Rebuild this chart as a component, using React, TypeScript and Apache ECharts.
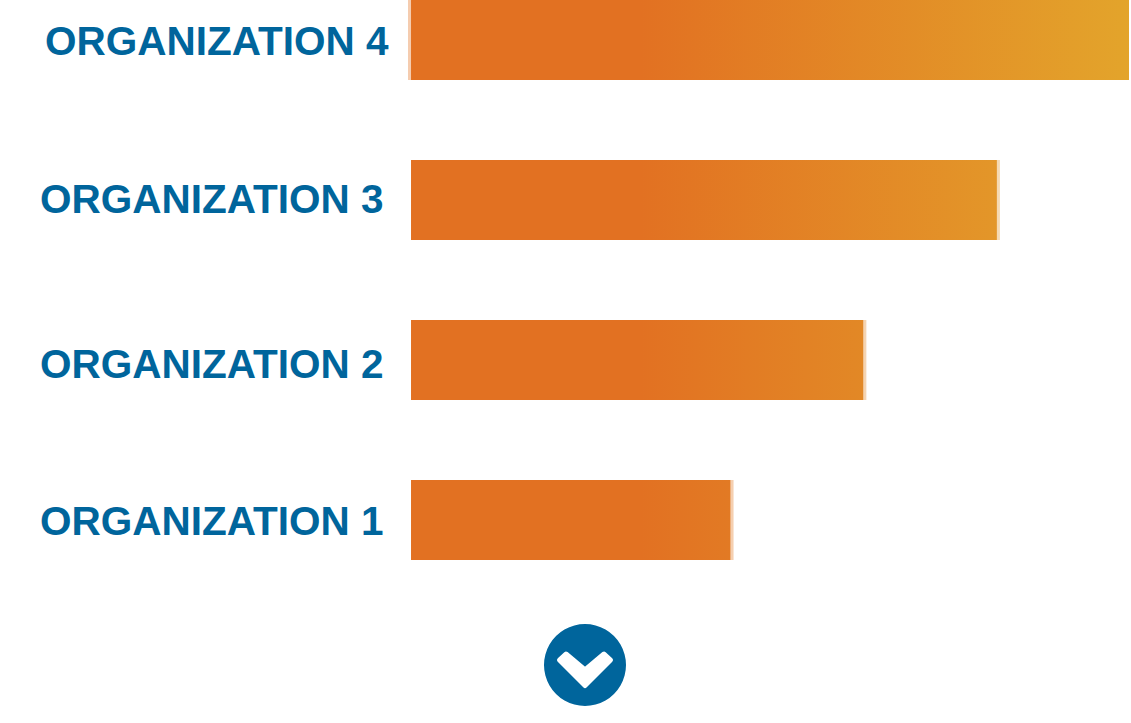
import React, { useEffect, useRef } from "react";
import * as echarts from "echarts";

const categories = ["ORGANIZATION 1", "ORGANIZATION 2", "ORGANIZATION 3", "ORGANIZATION 4"];
const values = [44.5, 63, 81.6, 100];
const edgeValues = [0.42, 0.42, 0.42, -0.42];
const AXIS_MIN = -0.42;
const AXIS_MAX = 100;
const BLUE = "#00659c";

const START = [226, 113, 34];
const END = [227, 164, 43];
const FLAT = 0.32;

function colorAt(frac: number, opacity = 1) {
  const t = Math.max(0, (frac - FLAT) / (1 - FLAT));
  const c = START.map((s, i) => Math.round(s + (END[i] - s) * t));
  return `rgba(${c[0]},${c[1]},${c[2]},${opacity})`;
}

function barGradient(v: number) {
  const frac = v / AXIS_MAX;
  const stops: { offset: number; color: string }[] = [{ offset: 0, color: colorAt(0) }];
  if (frac > FLAT) stops.push({ offset: FLAT / frac, color: colorAt(FLAT) });
  stops.push({ offset: 1, color: colorAt(frac) });
  return new echarts.graphic.LinearGradient(0, 0, 1, 0, stops);
}

const labelStyle = {
  color: BLUE,
  fontFamily: "Liberation Sans",
  fontWeight: "bold",
  fontSize: 40.5,
};

export default function App() {
  const ref = useRef<HTMLDivElement>(null);
  useEffect(() => {
    const chart = echarts.init(ref.current!, undefined, { renderer: "svg" });
    chart.setOption({
      animation: false,
      backgroundColor: "#ffffff",
      grid: { left: 408, right: 2, top: 40, height: 480 },
      xAxis: { type: "value", min: AXIS_MIN, max: AXIS_MAX, show: false },
      yAxis: {
        type: "category",
        boundaryGap: false,
        data: categories,
        axisLine: { show: false },
        axisTick: { show: false },
        axisLabel: {
          align: "left",
          margin: 368,
          formatter: (v: string) => {
            if (v.endsWith("4")) return `{r4|${v}}`;
            if (v.endsWith("3")) return `{r3|${v}}`;
            if (v.endsWith("2")) return `{r2|${v}}`;
            return `{r1|${v}}`;
          },
          rich: {
            r4: { ...labelStyle, padding: [2, 0, 0, 5] },
            r3: { ...labelStyle, padding: [0, 0, 2, 0] },
            r2: { ...labelStyle, padding: [8, 0, 0, 0] },
            r1: { ...labelStyle, padding: [2, 0, 0, 0] },
          },
        },
      },
      series: [
        {
          type: "bar",
          stack: "total",
          clip: false,
          barWidth: 80,
          data: values.map((v) => ({ value: v, itemStyle: { color: barGradient(v) } })),
        },
        {
          type: "bar",
          stack: "total",
          clip: false,
          barWidth: 80,
          data: edgeValues.map((v, i) => ({
            value: v,
            itemStyle: { color: colorAt(v < 0 ? 0 : values[i] / AXIS_MAX, 0.36) },
          })),
        },
      ],
      graphic: [
        { type: "circle", shape: { cx: 585, cy: 665, r: 41 }, style: { fill: BLUE } },
        {
          type: "polygon",
          shape: { points: [[585, 685.5], [610.5, 660], [604, 654], [585, 670], [566, 654], [559.5, 660]] },
          style: { fill: "#fff", stroke: "#fff", lineWidth: 5, lineJoin: "round" },
        },
      ],
    });
    return () => chart.dispose();
  }, []);
  return <div ref={ref} style={{ position: "fixed", left: 0, top: 0, width: 1131, height: 723 }} />;
}
